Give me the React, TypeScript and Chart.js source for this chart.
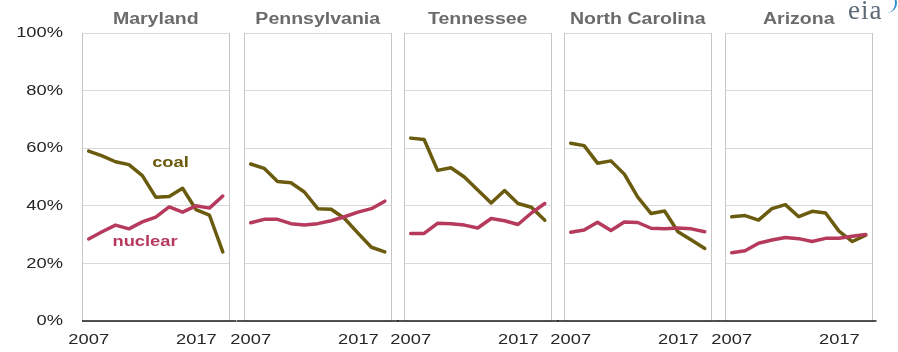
import React, { useEffect, useRef } from 'react';
import { Chart, registerables } from 'chart.js';

Chart.register(...registerables);

// ---------- data ----------
const years = ['2007', '2008', '2009', '2010', '2011', '2012', '2013', '2014', '2015', '2016', '2017'];
const states = ['Maryland', 'Pennsylvania', 'Tennessee', 'North Carolina', 'Arizona'];
const seriesNames = ['coal', 'nuclear'];

const marylandCoal = [59, 57.3, 55.3, 54.3, 50.5, 43, 43.2, 46.1, 38.7, 36.8, 24];
const marylandNuclear = [28.5, 31, 33.3, 32, 34.4, 36.1, 39.6, 37.8, 40, 39.2, 43.4];
const pennsylvaniaCoal = [54.5, 53, 48.4, 48, 44.8, 39, 38.8, 35.6, 30.5, 25.6, 24];
const pennsylvaniaNuclear = [34.1, 35.3, 35.3, 33.8, 33.3, 33.8, 34.8, 36.2, 37.8, 39, 41.6];
const tennesseeCoal = [63.5, 63, 52.3, 53.2, 50, 45.5, 41, 45.3, 40.8, 39.5, 35];
const tennesseeNuclear = [30.4, 30.4, 33.9, 33.8, 33.3, 32.3, 35.6, 34.8, 33.5, 37.5, 40.8];
const northCarolinaCoal = [61.7, 60.9, 54.8, 55.6, 51, 43, 37.3, 38.2, 31, 28.1, 25.2];
const northCarolinaNuclear = [30.8, 31.6, 34.3, 31.4, 34.4, 34.2, 32.2, 32, 32.3, 32, 31];
const arizonaCoal = [36.2, 36.6, 35, 39, 40.4, 36.2, 38.1, 37.5, 31.2, 27.6, 29.8];
const arizonaNuclear = [23.7, 24.4, 27, 28.1, 29, 28.6, 27.6, 28.7, 28.7, 29.4, 30];

const coalByState = [marylandCoal, pennsylvaniaCoal, tennesseeCoal, northCarolinaCoal, arizonaCoal];
const nuclearByState = [marylandNuclear, pennsylvaniaNuclear, tennesseeNuclear, northCarolinaNuclear, arizonaNuclear];

const yTickValues = [0, 20, 40, 60, 80, 100];
const shownYears = ['2007', '2017'];
// series label anchors (category index, percent) in the first panel
const seriesLabelAnchors = [[6.1, 55], [4.2, 27.4]];

// ---------- styles / layout ----------
const FONT = '"Liberation Sans", Arial, sans-serif';
const COAL_COLOR = '#6a5b0f';
const NUCLEAR_COLOR = '#b53a5c';
const GRID_COLOR = '#d9d9d9';
const BORDER_COLOR = '#c6c6c6';
const TEXT_COLOR = '#262626';
const TITLE_COLOR = '#6b6b6b';
const PANEL_LEFTS = [82, 244, 404, 564, 725];
const PANEL_W = 147.5;
const H = 352;
const PLOT_TOP = 33;
const PLOT_BOTTOM = 321;
const SIDE = 26;
const STRETCH = 1.22;

function fillStretched(ctx: CanvasRenderingContext2D, text: string, x: number, y: number, align: CanvasTextAlign) {
  ctx.save();
  ctx.translate(x, y);
  ctx.scale(STRETCH, 1);
  ctx.textAlign = align;
  ctx.textBaseline = 'middle';
  ctx.fillText(text, 0, 0);
  ctx.restore();
}

const baselinePlugin = {
  id: 'baseline',
  afterDraw(chart: any, _args: any, opts: any) {
    const { ctx, chartArea } = chart;
    ctx.save();
    ctx.strokeStyle = '#1a1a1a';
    ctx.lineWidth = 1.5;
    ctx.beginPath();
    ctx.moveTo(chartArea.left - (opts.left || 0), chartArea.bottom);
    ctx.lineTo(chartArea.right + (opts.right || 0), chartArea.bottom);
    ctx.stroke();
    ctx.restore();
  },
};

const textPlugin = {
  id: 'panelText',
  afterDraw(chart: any, _args: any, opts: any) {
    const { ctx, chartArea } = chart;
    const xs = chart.scales.x;
    const ys = chart.scales.y;
    const labels = chart.data.labels as string[];
    ctx.save();
    // panel title
    ctx.font = `bold 16px ${FONT}`;
    ctx.fillStyle = TITLE_COLOR;
    fillStretched(ctx, opts.title, (chartArea.left + chartArea.right) / 2, 20, 'center');
    // x labels
    ctx.font = `15px ${FONT}`;
    ctx.fillStyle = TEXT_COLOR;
    const y = chartArea.bottom + 19;
    shownYears.forEach((yr, k) => {
      const px = xs.getPixelForValue(labels.indexOf(yr));
      if (k === 0) fillStretched(ctx, yr, px, y, 'center');
      else fillStretched(ctx, yr, px - 6, y, 'right');
    });
    // y labels
    if (opts.yLabels) {
      yTickValues.forEach((v) => {
        fillStretched(ctx, `${v}%`, chartArea.left - 19, ys.getPixelForValue(v), 'right');
      });
    }
    ctx.restore();
  },
};

const seriesLabelsPlugin = {
  id: 'seriesLabels',
  afterDatasetsDraw(chart: any, _args: any, opts: any) {
    if (!opts.show) return;
    const { ctx } = chart;
    const xs = chart.scales.x;
    const ys = chart.scales.y;
    ctx.save();
    ctx.font = `bold 15px ${FONT}`;
    seriesNames.forEach((name, k) => {
      const [ix, v] = seriesLabelAnchors[k];
      ctx.fillStyle = k === 0 ? COAL_COLOR : NUCLEAR_COLOR;
      fillStretched(ctx, name, xs.getPixelForValue(ix), ys.getPixelForValue(v), 'center');
    });
    ctx.restore();
  },
};

function Panel({ index }: { index: number }) {
  const ref = useRef<HTMLCanvasElement | null>(null);
  const boxLeft = PANEL_LEFTS[index];
  const canvasLeft = index === 0 ? 0 : Math.round(boxLeft - SIDE);
  const canvasRight = Math.round(boxLeft + PANEL_W + SIDE);
  const width = canvasRight - canvasLeft;
  const padLeft = index === 0 ? 0 : boxLeft - canvasLeft;
  const padRight = canvasRight - (boxLeft + PANEL_W);

  useEffect(() => {
    if (!ref.current) return;
    const chart = new Chart(ref.current, {
      type: 'line',
      data: {
        labels: years,
        datasets: [
          {
            label: seriesNames[1],
            data: nuclearByState[index],
            borderColor: NUCLEAR_COLOR,
            backgroundColor: NUCLEAR_COLOR,
            borderWidth: 3.5,
            pointRadius: 0,
            tension: 0,
            borderJoinStyle: 'round',
            borderCapStyle: 'round',
          },
          {
            label: seriesNames[0],
            data: coalByState[index],
            borderColor: COAL_COLOR,
            backgroundColor: COAL_COLOR,
            borderWidth: 3.5,
            pointRadius: 0,
            tension: 0,
            borderJoinStyle: 'round',
            borderCapStyle: 'round',
          },
        ],
      },
      options: {
        responsive: false,
        animation: false,
        devicePixelRatio: 1,
        layout: { padding: { left: padLeft, right: padRight, top: PLOT_TOP, bottom: 0 } },
        scales: {
          x: {
            type: 'category',
            offset: true,
            grid: { display: false, drawTicks: false },
            border: { display: false },
            ticks: { display: false },
            afterFit: (s: any) => {
              s.height = H - PLOT_BOTTOM;
            },
          },
          y: {
            type: 'linear',
            position: 'left',
            min: 0,
            max: 100,
            afterBuildTicks: (s: any) => {
              s.ticks = yTickValues.map((v) => ({ value: v }));
            },
            grid: { color: GRID_COLOR, lineWidth: 1, drawTicks: false },
            border: { display: true, color: BORDER_COLOR, width: 1 },
            ticks: { display: false },
            afterFit: (s: any) => {
              s.width = index === 0 ? boxLeft : 0;
            },
          },
          y2: {
            type: 'linear',
            position: 'right',
            min: 0,
            max: 100,
            grid: { display: false, drawTicks: false },
            border: { display: true, color: BORDER_COLOR, width: 1 },
            ticks: { display: false },
            afterFit: (s: any) => {
              s.width = 0;
            },
          },
        },
        plugins: {
          legend: { display: false },
          tooltip: { enabled: false },
          title: { display: false },
          baseline: { left: index === 0 ? 0 : 7, right: index === 4 ? 4 : 7 },
          panelText: { title: states[index], yLabels: index === 0 },
          seriesLabels: { show: index === 0 },
        } as any,
      },
      plugins: [baselinePlugin, textPlugin, seriesLabelsPlugin],
    } as any);
    return () => chart.destroy();
  }, [index]);

  return (
    <canvas
      ref={ref}
      width={width}
      height={H}
      style={{ position: 'absolute', left: canvasLeft, top: 0, width, height: H }}
    />
  );
}

export default function App() {
  return (
    <div
      style={{
        position: 'absolute',
        left: 0,
        top: 0,
        width: 898,
        height: 352,
        background: '#ffffff',
        overflow: 'hidden',
      }}
    >
      {states.map((s, i) => (
        <Panel key={s} index={i} />
      ))}
      <div
        style={{
          position: 'absolute',
          left: 848,
          top: -5,
          fontFamily: '"Liberation Serif", "DejaVu Serif", serif',
          fontSize: 27,
          color: '#5d6b78',
          letterSpacing: 1,
        }}
      >
        eia
      </div>
      <div
        style={{
          position: 'absolute',
          left: 886,
          top: -7,
          width: 9,
          height: 20,
          borderRight: '2.5px solid #2f8fd6',
          borderRadius: '0 12px 12px 0',
        }}
      />
    </div>
  );
}
